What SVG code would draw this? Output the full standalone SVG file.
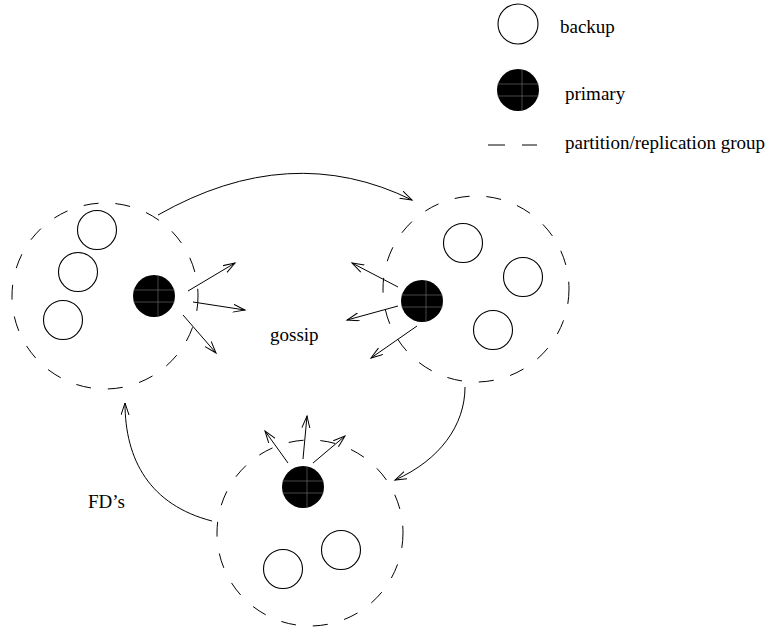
<svg xmlns="http://www.w3.org/2000/svg" width="779" height="630" viewBox="0 0 779 630">
  <style>
    text { font-family: "Liberation Serif", "Times New Roman", serif; font-size: 19px; fill: #000; }
    .group { fill: none; stroke: #000; stroke-width: 1; stroke-dasharray: 15 17; }
    .backup { fill: #fff; stroke: #000; stroke-width: 1.1; }
    .primary { fill: #000; stroke: none; }
    .grid { stroke: #777; stroke-width: 0.6; }
    .arrow { fill: none; stroke: #000; stroke-width: 1; marker-end: url(#head); }
  </style>
  <defs>
    <marker id="head" markerUnits="userSpaceOnUse" markerWidth="14" markerHeight="10" refX="12" refY="4.5" orient="auto">
      <path d="M0,0.5 L12,4.5 L0,8.5" fill="none" stroke="#000" stroke-width="1"/>
    </marker>
    <!-- primary replica: filled disc with a faint grid -->
    <g id="prim">
      <circle class="primary" r="21"/>
      <line class="grid" x1="4" y1="-21" x2="4" y2="21"/>
      <line class="grid" x1="-21" y1="-6" x2="21" y2="-6"/>
      <line class="grid" x1="-21" y1="6" x2="21" y2="6"/>
    </g>
  </defs>

  <!-- legend -->
  <g id="legend">
    <circle class="backup" cx="518" cy="24" r="20"/>
    <text x="560" y="33">backup</text>
    <use href="#prim" x="518" y="90"/>
    <text x="565" y="100">primary</text>
    <line x1="488" y1="145" x2="505" y2="145" stroke="#000" stroke-width="1"/>
    <line x1="522" y1="145" x2="537" y2="145" stroke="#000" stroke-width="1"/>
    <text x="565" y="149">partition/replication group</text>
  </g>

  <!-- left replication group -->
  <g id="group-left">
    <circle class="group" cx="105" cy="296" r="93"/>
    <circle class="backup" cx="97" cy="230" r="19.5"/>
    <circle class="backup" cx="78" cy="272" r="19.5"/>
    <circle class="backup" cx="63" cy="320" r="19.5"/>
    <use href="#prim" x="154" y="296"/>
  </g>

  <!-- right replication group -->
  <g id="group-right">
    <circle class="group" cx="476" cy="289" r="93"/>
    <circle class="backup" cx="463" cy="243" r="19.5"/>
    <circle class="backup" cx="523" cy="277" r="19.5"/>
    <circle class="backup" cx="493" cy="330" r="19.5"/>
    <use href="#prim" x="422" y="301"/>
  </g>

  <!-- bottom replication group -->
  <g id="group-bottom">
    <circle class="group" cx="310" cy="533" r="93"/>
    <circle class="backup" cx="283" cy="569" r="19.5"/>
    <circle class="backup" cx="341" cy="550" r="19.5"/>
    <use href="#prim" x="303" y="487"/>
  </g>

  <!-- connectors -->
  <g id="connectors">
    <!-- gossip from each primary -->
    <line class="arrow" x1="188" y1="291" x2="235" y2="263"/>
    <line class="arrow" x1="193" y1="302" x2="245" y2="310"/>
    <line class="arrow" x1="183" y1="315" x2="216" y2="353"/>
    <line class="arrow" x1="398" y1="287" x2="352" y2="263"/>
    <line class="arrow" x1="398" y1="306" x2="347" y2="320"/>
    <line class="arrow" x1="417" y1="326" x2="371" y2="358"/>
    <line class="arrow" x1="288" y1="463" x2="265" y2="431"/>
    <line class="arrow" x1="303" y1="459" x2="307" y2="416"/>
    <line class="arrow" x1="313" y1="463" x2="345" y2="436"/>
    <!-- failure detection ring -->
    <path class="arrow" d="M158,215 Q290,140 412,200"/>
    <path class="arrow" d="M465,387 C465,425 440,460 395,480"/>
    <path class="arrow" d="M212,521 C150,505 125,460 125,403"/>
  </g>

  <g id="labels">
    <text x="270" y="341">gossip</text>
    <text x="88" y="508">FD’s</text>
  </g>
</svg>
